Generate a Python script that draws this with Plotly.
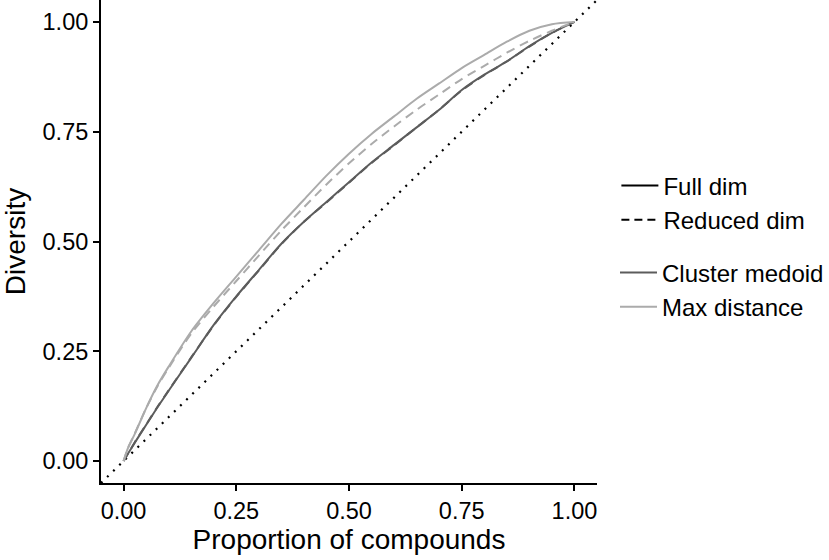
import plotly.graph_objects as go

# proportion of compounds selected
prop = [0, 0.01, 0.025, 0.05, 0.075, 0.1, 0.15, 0.2, 0.25, 0.3, 0.35, 0.4, 0.45,
        0.5, 0.55, 0.6, 0.65, 0.7, 0.75, 0.8, 0.85, 0.9, 0.95, 1.0]

# diversity curves
medoid_full = [0, 0.017, 0.042, 0.082, 0.122, 0.16, 0.235, 0.31, 0.375, 0.435, 0.495, 0.545,
               0.59, 0.635, 0.68, 0.72, 0.76, 0.80, 0.845, 0.88, 0.91, 0.945, 0.975, 1.0]
medoid_reduced = [0, 0.017, 0.043, 0.083, 0.123, 0.161, 0.236, 0.309, 0.374, 0.434, 0.494, 0.545,
                  0.589, 0.634, 0.679, 0.719, 0.76, 0.80, 0.844, 0.879, 0.91, 0.944, 0.975, 1.0]
maxdist_full = [0, 0.03, 0.062, 0.12, 0.172, 0.215, 0.295, 0.36, 0.42, 0.48, 0.54, 0.595,
                0.65, 0.70, 0.745, 0.785, 0.825, 0.86, 0.895, 0.925, 0.955, 0.98, 0.995, 1.0]
maxdist_reduced = [0, 0.03, 0.063, 0.12, 0.17, 0.212, 0.29, 0.352, 0.41, 0.468, 0.525, 0.578,
                   0.63, 0.678, 0.722, 0.762, 0.80, 0.835, 0.87, 0.90, 0.93, 0.957, 0.98, 1.0]

diag = [-0.05, 1.05]
ticks = [0, 0.25, 0.5, 0.75, 1.0]

dark = "#5c5c5c"
light = "#ababab"
dashed = "9px,6px"
FONT = "Liberation Sans, Arial, Helvetica, sans-serif"

fig = go.Figure()

# y = x reference
fig.add_trace(go.Scatter(x=diag, y=diag, mode="lines", showlegend=False,
                         line=dict(color="black", width=2.2, dash="2px,6.5px")))

curves = [(medoid_reduced, dark, dashed), (medoid_full, dark, "solid"),
          (maxdist_reduced, light, dashed), (maxdist_full, light, "solid")]
for vals, col, ds in curves:
    fig.add_trace(go.Scatter(x=prop, y=vals, mode="lines", showlegend=False,
                             line=dict(color=col, width=2, dash=ds, shape="spline", smoothing=0.8)))

# legend entries, two separate legends
fig.add_trace(go.Scatter(x=[None], y=[None], mode="lines", name="Full dim", legend="legend",
                         line=dict(color="black", width=2)))
fig.add_trace(go.Scatter(x=[None], y=[None], mode="lines", name="Reduced dim", legend="legend",
                         line=dict(color="black", width=2, dash="8px,5px")))
fig.add_trace(go.Scatter(x=[None], y=[None], mode="lines", name="Cluster medoid", legend="legend2",
                         line=dict(color=dark, width=2)))
fig.add_trace(go.Scatter(x=[None], y=[None], mode="lines", name="Max distance", legend="legend2",
                         line=dict(color=light, width=2)))

axis = dict(range=[-0.05, 1.05], tickvals=ticks, tickformat=".2f", showgrid=False, zeroline=False,
            showline=True, linecolor="black", linewidth=2, ticks="outside", ticklen=6,
            tickwidth=2, tickcolor="black", tickfont=dict(size=23.5, color="black"),
            automargin=False)

leg = dict(x=1.037, xanchor="left", yanchor="middle", font=dict(size=24), itemwidth=37,
           bgcolor="rgba(0,0,0,0)")

fig.update_layout(
    width=829, height=560,
    font=dict(family=FONT, color="black"),
    plot_bgcolor="white", paper_bgcolor="white",
    margin=dict(l=101, r=231, t=0, b=77),
    xaxis=dict(axis, title=dict(text="Proportion of compounds", font=dict(size=28), standoff=4)),
    yaxis=dict(axis, title=dict(text="Diversity", font=dict(size=28), standoff=15)),
    legend=dict(leg, y=1 - 203 / 483),
    legend2=dict(leg, y=1 - 290 / 483),
)

# page body has a default margin; drop it so the figure fills the window
fig.write_html("out.html", config={"displayModeBar": False},
               post_script="document.body.style.margin='0';document.body.style.overflow='hidden';")
